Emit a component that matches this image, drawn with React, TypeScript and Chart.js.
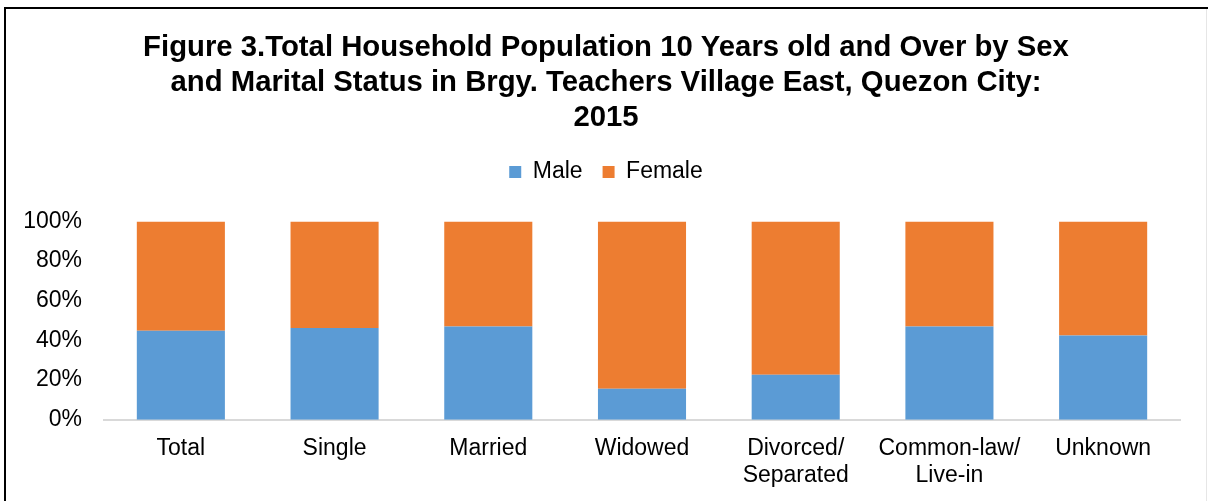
import React, { useEffect, useRef } from "react";
import { Chart, registerables } from "chart.js";

Chart.register(...registerables);

const categories: (string | string[])[] = [
  "Total",
  "Single",
  "Married",
  "Widowed",
  ["Divorced/", "Separated"],
  ["Common-law/", "Live-in"],
  "Unknown",
];
const maleValues = [44.9, 46.3, 47.0, 15.6, 22.7, 47.0, 42.5];
const femaleValues = [55.1, 53.7, 53.0, 84.4, 77.3, 53.0, 57.5];
const titleLines = [
  "Figure 3.Total Household Population 10 Years old and Over by Sex",
  "and Marital Status in Brgy. Teachers Village East, Quezon City:",
  "2015",
];
const yTicks = [0, 20, 40, 60, 80, 100];

const FONT = "'Liberation Sans', Arial, Helvetica, sans-serif";

const legendGap = {
  id: "legendGap",
  beforeInit(chart: any) {
    const legend = chart.legend;
    if (!legend) return;
    const orig = legend.fit;
    legend.fit = function () {
      orig.call(this);
      this.height += 28;
    };
  },
};

export default function App() {
  const ref = useRef<HTMLCanvasElement | null>(null);
  useEffect(() => {
    if (!ref.current) return;
    const chart = new Chart(ref.current, {
      type: "bar",
      data: {
        labels: categories,
        datasets: [
          { label: "Male", data: maleValues, backgroundColor: "#5B9BD5", yAxisID: "y" },
          { label: "Female", data: femaleValues, backgroundColor: "#ED7D31", yAxisID: "y" },
        ],
      },
      plugins: [legendGap],
      options: {
        animation: false,
        responsive: false,
        devicePixelRatio: 1,
        layout: { padding: { left: 10, right: 6, top: 30, bottom: -3 } },
        datasets: {
          bar: { categoryPercentage: 1, barPercentage: 0.573 },
        },
        plugins: {
          title: {
            display: true,
            text: titleLines,
            color: "#000",
            font: { family: FONT, size: 29.3, weight: "bold", lineHeight: 1.2 },
            padding: { top: 0, bottom: 5 },
          },
          legend: {
            display: true,
            position: "top",
            labels: {
              color: "#000",
              font: { family: FONT, size: 23 },
              boxWidth: 12,
              boxHeight: 12,
              padding: 20,
            },
          },
          tooltip: { enabled: false },
        },
        scales: {
          x: {
            stacked: true,
            grid: { display: false, drawTicks: false },
            border: { display: true, color: "#D9D9D9", width: 2 },
            ticks: {
              color: "#000",
              font: { family: FONT, size: 23, lineHeight: 1.18 },
              padding: 15,
              maxRotation: 0,
              autoSkip: false,
            },
          },
          y: {
            stacked: true,
            position: "left",
            min: 0,
            max: 100,
            afterFit: (scale: any) => {
              scale.width = 94;
            },
            afterBuildTicks: (scale: any) => {
              scale.ticks = yTicks.map((v) => ({ value: v }));
            },
            grid: { display: false, drawTicks: false },
            border: { display: false },
            ticks: {
              color: "#000",
              font: { family: FONT, size: 23 },
              padding: 22,
              callback: (v: any) => v + "%",
            },
          },
          yRight: {
            type: "linear",
            position: "right",
            min: 0,
            max: 100,
            afterFit: (scale: any) => {
              scale.width = 22;
            },
            grid: { display: false, drawTicks: false },
            border: { display: false },
            ticks: { display: false },
          },
        },
      },
    });
    return () => chart.destroy();
  }, []);

  return (
    <div
      style={{
        position: "fixed",
        left: 0,
        top: 0,
        width: 1208,
        height: 501,
        background: "#fff",
      }}
    >
      <canvas ref={ref} width={1208} height={501} style={{ display: "block" }} />
      <div style={{ position: "absolute", left: 4, top: 7, width: 1204, height: 2, background: "#000" }} />
      <div style={{ position: "absolute", left: 4, top: 7, width: 2, height: 494, background: "#000" }} />
      <div style={{ position: "absolute", left: 1206, top: 9, width: 1, height: 492, background: "#E6E6E6" }} />
    </div>
  );
}
